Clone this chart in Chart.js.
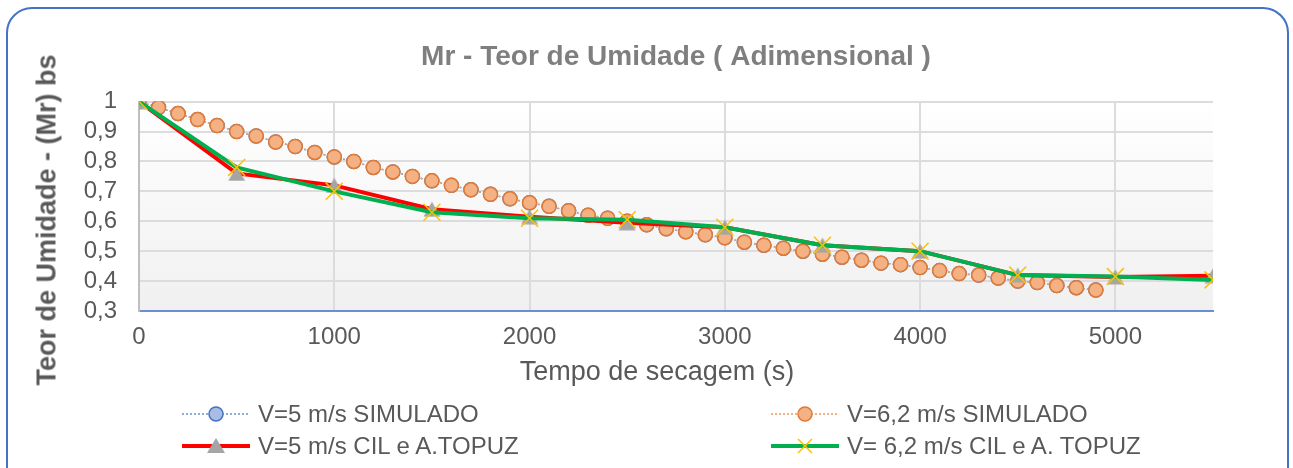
<!DOCTYPE html>
<html>
<head>
<meta charset="utf-8">
<script src="https://cdn.jsdelivr.net/npm/chart.js@4.4.0/dist/chart.umd.min.js"></script>
<style>
  html, body { margin: 0; padding: 0; background: #fff; }
  body { width: 1293px; height: 468px; position: relative; overflow: hidden; font-family: "Liberation Sans", Arial, sans-serif; }
  #frame { position: absolute; left: 6px; top: 7px; width: 1279px; height: 490px; border: 2px solid #4472C4; border-radius: 26px; }
  #wrap { position: absolute; left: 0; top: 0; width: 1293px; height: 468px; }
  .axis-title { position: absolute; color: #595959; white-space: nowrap; font-size: 27px; }
  #x-title { left: 657px; top: 371px; transform: translate(-50%, -50%); }
  #y-title { left: 47px; top: 220px; transform: translate(-50%, -50%) rotate(-90deg); font-weight: bold; }
  .leg { position: absolute; display: flex; align-items: center; color: #595959; font-size: 24px; white-space: nowrap; height: 30px; }
  .leg svg { margin-right: 8px; }
</style>
</head>
<body>
<div id="frame"></div>
<div id="wrap"><canvas id="chart" width="1293" height="468"></canvas></div>
<div class="axis-title" id="x-title">Tempo de secagem (s)</div>
<div class="axis-title" id="y-title">Teor de Umidade - (Mr) bs</div>
<div id="legend"></div>
<script>
// tempo (s)
const simTime = [0, 100, 200, 300, 400, 500, 600, 700, 800, 900,
    1000, 1100, 1200, 1300, 1400, 1500, 1600, 1700, 1800, 1900,
    2000, 2100, 2200, 2300, 2400, 2500, 2600, 2700, 2800, 2900,
    3000, 3100, 3200, 3300, 3400, 3500, 3600, 3700, 3800, 3900,
    4000, 4100, 4200, 4300, 4400, 4500, 4600, 4700, 4800, 4900];
const expTime = [0, 500, 1000, 1500, 2000, 2500, 3000, 3500, 4000, 4500, 5000, 5500];

// Mr simulado
const sim5 = [1.0, 0.98, 0.96, 0.94, 0.92, 0.90, 0.885, 0.865, 0.85, 0.83,
    0.815, 0.80, 0.78, 0.765, 0.75, 0.735, 0.72, 0.705, 0.69, 0.675,
    0.662, 0.65, 0.635, 0.62, 0.61, 0.60, 0.588, 0.575, 0.565, 0.555,
    0.545, 0.53, 0.52, 0.51, 0.50, 0.49, 0.48, 0.47, 0.46, 0.455,
    0.445, 0.435, 0.425, 0.42, 0.41, 0.40, 0.395, 0.385, 0.378, 0.37];
const sim62 = [1.0, 0.98, 0.96, 0.94, 0.92, 0.90, 0.885, 0.865, 0.85, 0.83,
    0.815, 0.80, 0.78, 0.765, 0.75, 0.735, 0.72, 0.705, 0.69, 0.675,
    0.662, 0.65, 0.635, 0.62, 0.61, 0.60, 0.588, 0.575, 0.565, 0.555,
    0.545, 0.53, 0.52, 0.51, 0.50, 0.49, 0.48, 0.47, 0.46, 0.455,
    0.445, 0.435, 0.425, 0.42, 0.41, 0.40, 0.395, 0.385, 0.378, 0.37];

// Mr CIL e A.TOPUZ
const topuz5 = [1.0, 0.76, 0.72, 0.64, 0.615, 0.595, 0.58, 0.52, 0.50, 0.42, 0.414, 0.418];
const topuz62 = [1.0, 0.78, 0.70, 0.63, 0.61, 0.605, 0.58, 0.52, 0.50, 0.42, 0.415, 0.404];

const seriesNames = ['V=5 m/s SIMULADO', 'V=6,2 m/s SIMULADO', 'V=5 m/s CIL e A.TOPUZ', 'V= 6,2 m/s CIL e A. TOPUZ'];
const xTickValues = [0, 1000, 2000, 3000, 4000, 5000];
const xTickLabels = ['0', '1000', '2000', '3000', '4000', '5000'];
const yTickLabels = ['0,3', '0,4', '0,5', '0,6', '0,7', '0,8', '0,9', '1'];

const toPoints = (xs, ys) => xs.map((x, i) => ({ x: x, y: ys[i] }));

// marcador triangular centrado na caixa (como no Excel)
function makeTriangle() {
    const c = document.createElement('canvas');
    c.width = 18;
    c.height = 16;
    const t = c.getContext('2d');
    t.fillStyle = '#A5A5A5';
    t.beginPath();
    t.moveTo(9, 0.5);
    t.lineTo(17.5, 15.5);
    t.lineTo(0.5, 15.5);
    t.closePath();
    t.fill();
    return c;
}
const triangleMarker = makeTriangle();

// fundo da área do gráfico em gradiente
const plotBg = {
    id: 'plotBg',
    beforeDraw(chart) {
        const { ctx, chartArea: a } = chart;
        const g = ctx.createLinearGradient(0, a.top, 0, a.bottom);
        g.addColorStop(0, '#ffffff');
        g.addColorStop(1, '#f0f0f0');
        ctx.save();
        ctx.fillStyle = g;
        ctx.fillRect(a.left, a.top, a.right - a.left, a.bottom - a.top);
        ctx.restore();
    }
};

const ctx = document.getElementById('chart').getContext('2d');
new Chart(ctx, {
    type: 'line',
    data: {
        datasets: [
            {
                label: seriesNames[0],
                order: 4,
                data: toPoints(simTime, sim5),
                borderColor: '#8FAADC',
                borderWidth: 1.5,
                borderDash: [2, 2],
                pointRadius: 7,
                pointBackgroundColor: '#A9BCE3',
                pointBorderColor: '#4472C4',
                pointBorderWidth: 1.5
            },
            {
                label: seriesNames[1],
                order: 3,
                data: toPoints(simTime, sim62),
                borderColor: '#C8A28A',
                borderWidth: 1.5,
                borderDash: [2, 2],
                pointRadius: 7,
                pointBackgroundColor: '#F4B183',
                pointBorderColor: '#E07A35',
                pointBorderWidth: 1.5
            },
            {
                label: seriesNames[2],
                order: 2,
                data: toPoints(expTime, topuz5),
                borderColor: '#FF0000',
                borderWidth: 4,
                pointStyle: triangleMarker,
                pointRadius: 9
            },
            {
                label: seriesNames[3],
                order: 1,
                data: toPoints(expTime, topuz62),
                borderColor: '#00B050',
                borderWidth: 4,
                pointStyle: 'crossRot',
                pointRadius: 12,
                pointBorderColor: '#FFC000',
                pointBorderWidth: 1.5
            }
        ]
    },
    options: {
        responsive: false,
        animation: false,
        layout: { padding: { left: 0, right: 80, top: 0, bottom: 117 } },
        plugins: {
            legend: { display: false },
            tooltip: { enabled: false },
            title: {
                display: true,
                fullSize: false,
                text: 'Mr - Teor de Umidade ( Adimensional )',
                color: '#7F7F7F',
                font: { family: 'Liberation Sans', size: 28, weight: 'bold' },
                padding: { top: 40, bottom: 28 }
            }
        },
        scales: {
            x: {
                type: 'linear',
                min: 0,
                max: 5500,
                afterFit: (s) => { s.height = 40; },
                afterBuildTicks: (s) => { s.ticks = xTickValues.map(v => ({ value: v })); },
                ticks: {
                    autoSkip: false,
                    padding: 12,
                    color: '#595959',
                    font: { family: 'Liberation Sans', size: 24 },
                    maxRotation: 0,
                    callback: (v, i) => xTickLabels[i]
                },
                grid: { color: '#DCDCDC', lineWidth: 2, drawTicks: false },
                border: { color: '#6A8FD6', width: 2 }
            },
            y: {
                min: 0.3,
                max: 1,
                afterFit: (s) => { s.width = 139; },
                ticks: {
                    stepSize: 0.1,
                    autoSkip: false,
                    padding: 22,
                    color: '#595959',
                    font: { family: 'Liberation Sans', size: 24 },
                    callback: (v, i) => yTickLabels[i]
                },
                grid: { color: '#DCDCDC', lineWidth: 2, drawTicks: false },
                border: { color: '#BFBFBF', width: 2 }
            }
        }
    },
    plugins: [plotBg]
});

// legenda em duas colunas
const legendStyles = [
    { line: '#8FAADC', dash: '2 2', lw: 2, marker: 'circle', fill: '#A9BCE3', stroke: '#4472C4' },
    { line: '#F4B183', dash: '2 2', lw: 2, marker: 'circle', fill: '#F4B183', stroke: '#E07A35' },
    { line: '#FF0000', dash: '', lw: 4, marker: 'triangle', fill: '#A5A5A5', stroke: '#A5A5A5' },
    { line: '#00B050', dash: '', lw: 4, marker: 'cross', fill: 'none', stroke: '#FFC000' }
];
const legendPos = [[182, 399], [771, 399], [182, 431], [771, 431]];
const legendEl = document.getElementById('legend');
seriesNames.forEach((name, i) => {
    const st = legendStyles[i];
    let mk = '';
    if (st.marker === 'circle') {
        mk = `<circle cx="34" cy="15" r="7" fill="${st.fill}" stroke="${st.stroke}" stroke-width="1.5"/>`;
    } else if (st.marker === 'triangle') {
        mk = `<polygon points="34,7 43,22 25,22" fill="${st.fill}"/>`;
    } else {
        mk = `<path d="M27 8 L41 22 M41 8 L27 22" stroke="${st.stroke}" stroke-width="1.5"/>`;
    }
    const div = document.createElement('div');
    div.className = 'leg';
    div.style.left = legendPos[i][0] + 'px';
    div.style.top = legendPos[i][1] + 'px';
    div.innerHTML = `<svg width="68" height="30"><line x1="0" y1="15" x2="68" y2="15" stroke="${st.line}" stroke-width="${st.lw}" ${st.dash ? 'stroke-dasharray="' + st.dash + '"' : ''}/>${mk}</svg><span>${name}</span>`;
    legendEl.appendChild(div);
});
</script>
</body>
</html>
